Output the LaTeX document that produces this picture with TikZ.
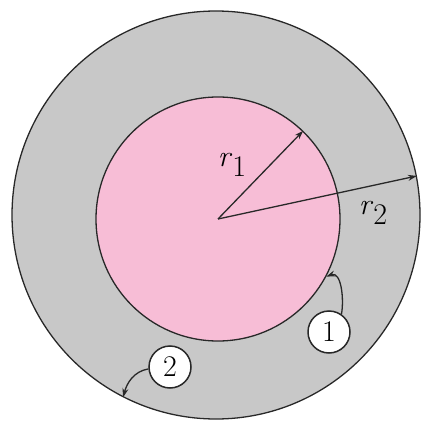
\documentclass[tikz,border=0pt]{standalone}
\usetikzlibrary{arrows.meta,positioning}
\definecolor{corepink}{RGB}{247,189,214}
\definecolor{shellgray}{RGB}{200,200,200}
\definecolor{inkgray}{RGB}{40,40,40}

\begin{document}
\begin{tikzpicture}[
  x=0.5pt, y=-0.5pt,
  shellnode/.style={circle, draw=inkgray, fill=shellgray, line width=0.65pt,
                    minimum size=204pt, inner sep=0pt},
  corenode/.style={circle, draw=inkgray, fill=corepink, line width=0.65pt,
                   minimum size=122pt, inner sep=0pt},
  numnode/.style={circle, draw=inkgray, fill=white, line width=0.75pt,
                  minimum size=21pt, inner sep=0pt,
                  font=\fontsize{15}{15}\selectfont},
  radlabel/.style={font=\fontsize{15}{16}\selectfont, inner sep=0pt},
  pointer/.style={->, inkgray, line width=0.65pt},
  >={Stealth[length=4.5pt,width=3pt]}
]
\useasboundingbox (0,0) rectangle (421,422);

% Cross-section
\node[shellnode] (outer) at (216,215) {};
\node[corenode] (inner) at (218,219) {};

% Radii
\draw[pointer] (inner.center) -- (inner.46);
\draw[pointer] (inner.center) -- (outer.11);
\node[radlabel] (r1) at (232,165) {\textit{r}\raisebox{-0.35em}{1}};
\node[radlabel] (r2) at (373,213) {\textit{r}\raisebox{-0.35em}{2}};

% Surfaces
\node[numnode] (one) at (329,332) {1};
\node[numnode] (two) at (170,367) {2};
\draw[pointer] (one.55) to[out=80, in=20] (inner.-28);
\draw[pointer] (two.185) to[out=190, in=75] (outer.-117);

\end{tikzpicture}
\end{document}
